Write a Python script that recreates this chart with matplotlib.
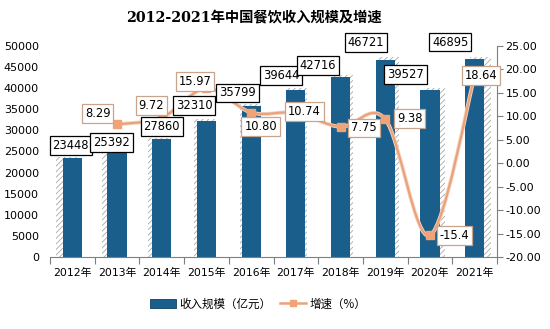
import matplotlib
matplotlib.use("Agg")
import matplotlib.pyplot as plt
from matplotlib.patches import Rectangle, PathPatch
from matplotlib.path import Path
from matplotlib.lines import Line2D
from matplotlib.patches import Patch
import matplotlib.patheffects as pe
import numpy as np

plt.rcParams['font.family'] = ['DejaVu Sans', 'Noto Sans CJK SC']
plt.rcParams['hatch.linewidth'] = 0.6

# ---- data ----
years = ['2012年', '2013年', '2014年', '2015年', '2016年', '2017年', '2018年', '2019年', '2020年', '2021年']
revenue = [23448, 25392, 27860, 32310, 35799, 39644, 42716, 46721, 39527, 46895]
growth = [np.nan, 8.29, 9.72, 15.97, 10.80, 10.74, 7.75, 9.38, -15.4, 18.64]
growth_labels = ['', '8.29', '9.72', '15.97', '10.80', '10.74', '7.75', '9.38', '-15.4', '18.64']
left_ticks = [0, 5000, 10000, 15000, 20000, 25000, 30000, 35000, 40000, 45000, 50000]
right_ticks = [-20, -15, -10, -5, 0, 5, 10, 15, 20, 25]

title = '2012-2021年中国餐饮收入规模及增速'
bar_name = '收入规模（亿元）'
line_name = '增速（%）'

# ---- styles ----
bar_color = '#1A5E8C'
line_color = '#E9A27C'
line_halo = '#F7D3BE'
marker_color = '#F0A374'
growth_box_edge = '#C9A48C'

bar_label_off = [(-1.5, 12.5), (-5.5, 7), (0, 13), (-12.5, 15), (-13.5, 13),
                 (-14.5, 14.5), (-22.5, 11.5), (-19.5, 17), (-24.5, 16), (-24.5, 17)]
growth_label_off = [(0, 0), (-19.5, 10.7), (-10.5, 12), (-11.5, 6.5), (9.5, -14),
                    (8.5, 1), (23.5, -1), (24.5, 0.5), (24.5, 0), (6.5, 0)]

fig = plt.figure(figsize=(5.5, 3.29), dpi=100)
ax = fig.add_axes([50/550, 1-257/329, (497-50)/550, (257-46)/329])
ax2 = ax.twinx()

n = len(years)
x = np.arange(n)
bw = 0.43

ax.set_xlim(-0.5, n-0.5)
ax.set_ylim(0, 50000)
ax2.set_ylim(-20, 25)

# shadows (perspective)
for i, v in enumerate(revenue):
    off = 0.028 * (i - 4.5)
    sh = Rectangle((x[i] - bw/2 - 0.02 + off, 0), bw + 0.04, v * 1.012,
                   facecolor='white', edgecolor='#A8A8A8', hatch='//////',
                   linewidth=0, zorder=1)
    ax.add_patch(sh)

ax.bar(x, revenue, width=bw, color=bar_color, zorder=2)

# axes styling
for s in ['top', 'left', 'right']:
    ax.spines[s].set_visible(False)
ax.spines['bottom'].set_color('#7F7F7F')
for s in ['top', 'left', 'bottom']:
    ax2.spines[s].set_visible(False)
ax2.spines['right'].set_color('#7F7F7F')

ax.set_yticks(left_ticks)
ax.set_yticklabels([str(t) for t in left_ticks], fontsize=8)
ax.tick_params(axis='y', length=0, pad=8)
ax.set_xticks(np.arange(n+1) - 0.5)
ax.set_xticklabels([])
ax.tick_params(axis='x', which='major', length=5, color='#7F7F7F', direction='out')
ax.set_xticks(x, minor=True)
ax.set_xticklabels(years, minor=True, fontsize=7.8)
ax.tick_params(axis='x', which='minor', length=0, pad=8)

ax2.set_yticks(right_ticks)
ax2.set_yticklabels(['%.2f' % t for t in right_ticks], fontsize=8)
ax2.tick_params(axis='y', length=4, color='#7F7F7F', pad=2)

# smoothed growth line (Catmull-Rom style Bezier in pixel-proportional space)
gx = x[1:].astype(float)
gy = np.array(growth[1:], dtype=float)
sy = 211/45 / (447/n)  # y unit to x unit scaling in pixels
pts = np.column_stack([gx, gy * sy])
verts = [pts[0]]
codes = [Path.MOVETO]
m = len(pts)
for k in range(m - 1):
    p0 = pts[k-1] if k > 0 else pts[k]
    p1 = pts[k]
    p2 = pts[k+1]
    p3 = pts[k+2] if k+2 < m else pts[k+1]
    c1 = p1 + (p2 - p0) / 6
    c2 = p2 - (p3 - p1) / 6
    verts += [c1, c2, p2]
    codes += [Path.CURVE4] * 3
verts = np.array(verts)
verts[:, 1] /= sy
ax2.add_patch(PathPatch(Path(verts, codes), facecolor='none', edgecolor=line_color,
                        linewidth=1.6, zorder=3, capstyle='round',
                        path_effects=[pe.Stroke(linewidth=2.8, foreground=line_halo), pe.Normal()]))
ax2.plot(gx, gy, linestyle='none', marker='s', markersize=5.5, color=marker_color, zorder=4)

# growth labels
for i in range(1, n):
    ax2.annotate(growth_labels[i], (x[i], growth[i]), xytext=growth_label_off[i],
                 textcoords='offset pixels', ha='center', va='center', fontsize=8.3,
                 bbox=dict(boxstyle='square,pad=0.25', facecolor='white',
                           edgecolor=growth_box_edge, linewidth=0.9), zorder=5)

# bar labels
for i, v in enumerate(revenue):
    ax2.annotate(str(v), (x[i], v), xycoords=ax.transData, xytext=bar_label_off[i],
                 textcoords='offset pixels', ha='center', va='center', fontsize=8.3,
                 bbox=dict(boxstyle='square,pad=0.25', facecolor='white',
                           edgecolor='black', linewidth=0.9), zorder=6)

fig.text(254/550, 1-18/329, title, ha='center', va='center', fontsize=10.3,
         fontweight='bold', family=['DejaVu Serif', 'Noto Sans CJK SC'])

handles = [Patch(facecolor=bar_color, edgecolor='#0F3F60', linewidth=0.6),
           Line2D([0], [0], color=line_color, linewidth=1.8, marker='s',
                  markersize=5, markerfacecolor=marker_color, markeredgecolor=marker_color)]
fig.legend(handles, [bar_name, line_name], loc='center', bbox_to_anchor=(258/550, 1-304/329),
           ncol=2, frameon=False, handlelength=2.2, handleheight=0.7,
           columnspacing=0.8, handletextpad=0.3,
           prop={'family': ['Noto Sans CJK SC', 'DejaVu Sans'], 'size': 8.3})

fig.savefig('out.png', dpi=100)
